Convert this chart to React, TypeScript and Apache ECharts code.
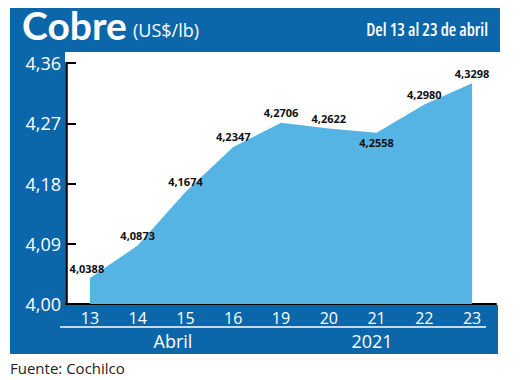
import React, { useEffect, useRef } from "react";
import * as echarts from "echarts";

const categories = ["13", "14", "15", "16", "19", "20", "21", "22", "23"];
const prices = [4.0388, 4.0873, 4.1674, 4.2347, 4.2706, 4.2622, 4.2558, 4.298, 4.3298];
const yMin = 4.0;
const yMax = 4.36;
const yStep = 0.09;
const title = "Cobre";
const unit = "(US$/lb)";
const period = "Del 13 al 23 de abril";
const monthLabel = "Abril";
const yearLabel = "2021";
const source = "Fuente: Cochilco";

const BLUE = "#0b67a9";
const AREA = "#56b4e4";
const SANS = "'Open Sans', Lato, sans-serif";

export default function App() {
  const ref = useRef<HTMLDivElement>(null);
  useEffect(() => {
    if (!ref.current) return;
    const chart = echarts.init(ref.current, null, { renderer: "svg" });
    const comma = (v: number, d: number) => v.toFixed(d).replace(".", ",");
    chart.setOption({
      animation: false,
      backgroundColor: "#ffffff",
      graphic: [
        { type: "rect", z: -10, shape: { x: 10, y: 8, width: 490, height: 44 }, style: { fill: BLUE } },
        { type: "rect", z: -10, shape: { x: 10, y: 8, width: 55, height: 346 }, style: { fill: BLUE } },
        { type: "rect", z: -10, shape: { x: 10, y: 305, width: 488, height: 49 }, style: { fill: BLUE } },
        { type: "line", shape: { x1: 60, y1: 327, x2: 486, y2: 327 }, style: { stroke: "#ffffff", lineWidth: 1.5 } },
        {
          type: "text", left: 22, top: 5,
          style: { text: title, fill: "#fff", font: "bold 39px Lato, 'Open Sans', sans-serif" },
        },
        {
          type: "text", left: 133, top: 21,
          style: { text: unit, fill: "#fff", font: "18px " + SANS },
        },
        {
          type: "text", right: 32, top: 21,
          style: { text: period, fill: "#fff", font: "600 condensed 17px " + SANS },
        },
        {
          type: "text", x: 173, y: 341,
          style: { text: monthLabel, fill: "#fff", font: "18px " + SANS, align: "center", verticalAlign: "middle" },
        },
        {
          type: "text", x: 372, y: 341,
          style: { text: yearLabel, fill: "#fff", font: "18px " + SANS, align: "center", verticalAlign: "middle" },
        },
        {
          type: "text", x: 10, y: 368,
          style: { text: source, fill: "#222", font: "15px " + SANS, verticalAlign: "middle" },
        },
      ],
      grid: { left: 66, right: 24, top: 63, bottom: 76 },
      xAxis: {
        type: "category",
        data: categories,
        boundaryGap: true,
        axisLine: { lineStyle: { color: "#000", width: 2 } },
        axisTick: { show: false },
        axisLabel: { color: "#fff", fontSize: 16, fontStyle: "condensed", fontFamily: SANS, margin: 6 },
      },
      yAxis: {
        type: "value",
        min: yMin,
        max: yMax,
        interval: yStep,
        axisLine: { show: true, lineStyle: { color: "#000", width: 2.5 } },
        axisTick: { show: true, inside: true, length: 10, lineStyle: { color: "#000", width: 2 } },
        splitLine: { show: false },
        axisLabel: {
          color: "#fff", fontSize: 18, margin: 5,
          fontStyle: "condensed",
          fontFamily: SANS,
          formatter: (v: number) => comma(v, 2),
        },
      },
      series: [
        {
          type: "line",
          data: prices.map((v, i) => ({
            value: v,
            label: i === 6 ? { position: "bottom", distance: 4 } : i === 0 ? { offset: [-3, 0] } : undefined,
          })),
          symbol: "circle",
          symbolSize: 1,
          showSymbol: true,
          itemStyle: { color: "rgba(0,0,0,0)" },
          lineStyle: { width: 0 },
          areaStyle: { color: AREA, opacity: 1 },
          label: {
            show: true,
            position: "top",
            distance: 4,
            color: "#111",
            fontSize: 11,
            fontWeight: "bold",
            fontStyle: "condensed",
            fontFamily: SANS,
            formatter: (p: any) => comma(p.value, 4),
          },
        },
      ],
    });
    return () => chart.dispose();
  }, []);
  return (
    <div style={{ position: "fixed", left: 0, top: 0 }}>
      <div ref={ref} style={{ width: 520, height: 380 }} />
    </div>
  );
}
